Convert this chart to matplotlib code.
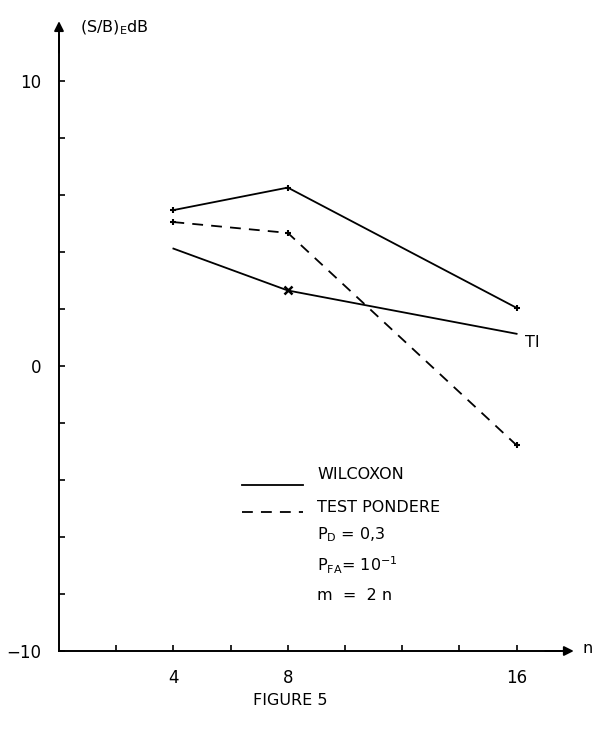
import matplotlib
matplotlib.use("Agg")
import matplotlib.pyplot as plt

plt.rcParams['font.family'] = ['DejaVu Sans']
plt.rcParams['mathtext.fontset'] = 'dejavusans'

# Data
n_values = [4, 8, 16]
wilcoxon = [5.47, 6.26, 2.04]
test_pondere = [5.05, 4.67, -2.78]
ti = [4.12, 2.65, 1.13]
x_major = [4, 8, 16]
x_minor = [2, 6, 10, 12, 14]
y_major = [-10, 0, 10]
y_minor = [-8, -6, -4, -2, 2, 4, 6, 8]

W, H = 604, 731
fig = plt.figure(figsize=(W / 100, H / 100), dpi=100)
ax = fig.add_axes([0, 0, 1, 1])

# pixel mapping: x px = 59 + 28.6*x ; y px = 366 - 28.5*y
sx, ox = 28.6, 59
sy, oy = 28.5, 366
ax.set_xlim(-ox / sx, (W - ox) / sx)
ax.set_ylim((oy - H) / sy, oy / sy)
ax.patch.set_visible(False)

for s in ['top', 'right']:
    ax.spines[s].set_visible(False)
ax.spines['left'].set_position(('data', 0))
ax.spines['bottom'].set_position(('data', -10))
ax.spines['left'].set_bounds(-10, 11.6)
ax.spines['bottom'].set_bounds(0, 17.5)
ax.spines['left'].set_linewidth(1.4)
ax.spines['bottom'].set_linewidth(1.4)

# arrow heads
ax.annotate('', xy=(0, 12.1), xytext=(0, 11.0),
            arrowprops=dict(arrowstyle='-|>', lw=1.4, color='black',
                            mutation_scale=14, shrinkA=0, shrinkB=0))
ax.annotate('', xy=(18.0, -10), xytext=(17.0, -10),
            arrowprops=dict(arrowstyle='-|>', lw=1.4, color='black',
                            mutation_scale=14, shrinkA=0, shrinkB=0))

ax.set_xticks(x_major)
ax.set_xticks(x_minor, minor=True)
ax.set_yticks(y_major)
ax.set_yticks(y_minor, minor=True)
ax.set_xticklabels([str(v) for v in x_major])
ax.set_yticklabels(['\u221210', '0', '10'])
ax.tick_params(axis='both', which='both', direction='in', length=4.5, width=1.2,
               labelsize=12)
ax.tick_params(axis='x', which='major', pad=13)
ax.tick_params(axis='y', which='major', pad=13)

lw = 1.3
ax.plot(n_values, wilcoxon, color='black', lw=lw, marker='+', ms=5, mew=1.5)
ax.plot(n_values, test_pondere, color='black', lw=lw, ls=(0, (6, 4.5)),
        marker='+', ms=5, mew=1.5)
ax.plot(n_values, ti, color='black', lw=lw, marker='x', ms=6, mew=1.8,
        markevery=[1])

# legend (drawn manually)
ax.plot([6.4, 8.53], [-4.18, -4.18], color='black', lw=lw)
ax.plot([6.4, 8.53], [-5.12, -5.12], color='black', lw=lw, ls=(0, (6, 4.5)))
fs = 11.5
ax.text(9.02, -3.82, 'WILCOXON', fontsize=fs, va='center', ha='left')
ax.text(9.02, -4.98, 'TEST PONDERE', fontsize=fs, va='center', ha='left')
ax.text(9.02, -5.93, r'P$_{\mathregular{D}}$ = 0,3', fontsize=fs, va='center', ha='left')
ax.text(9.02, -7.00, r'P$_{\mathregular{FA}}$= 10$^{\mathregular{-1}}$', fontsize=fs,
        va='center', ha='left')
ax.text(9.02, -8.04, 'm  =  2 n', fontsize=fs, va='center', ha='left')

ax.text(16.3, 0.84, 'TI', fontsize=fs, va='center', ha='left')
ax.text(18.3, -9.9, 'n', fontsize=fs, va='center', ha='left')
ax.text(0.75, 11.85, r'(S/B)$_{\mathregular{E}}$dB', fontsize=fs, va='center', ha='left')
ax.text((290 - ox) / sx, -11.72, 'FIGURE 5', fontsize=fs, va='center', ha='center')

fig.savefig('out.png', dpi=100)
